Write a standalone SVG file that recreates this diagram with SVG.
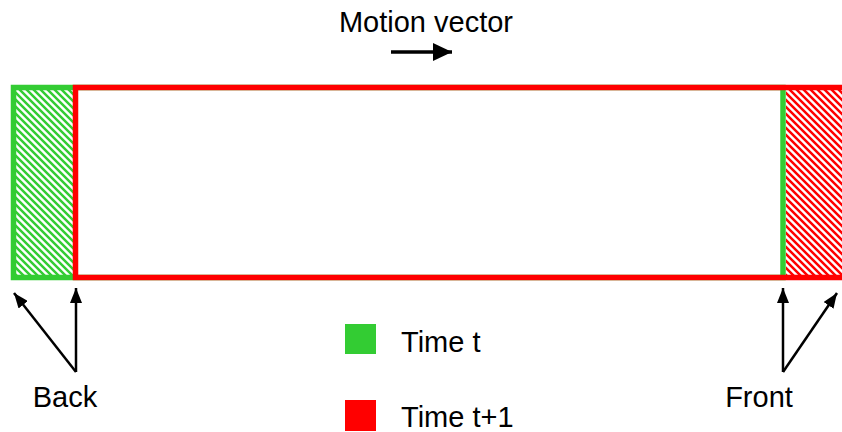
<svg xmlns="http://www.w3.org/2000/svg" width="842" height="432" viewBox="0 0 842 432">
  <defs>
    <pattern id="hatch-green" patternUnits="userSpaceOnUse" width="7" height="7">
      <path d="M-1,-1 L8,8 M-1,6 L1,8 M6,-1 L8,1" stroke="#33CC33" stroke-width="2.5"/>
    </pattern>
    <pattern id="hatch-red" patternUnits="userSpaceOnUse" width="7" height="7">
      <path d="M-1,-1 L8,8 M-1,6 L1,8 M6,-1 L8,1" stroke="#FF0000" stroke-width="2.5"/>
    </pattern>
    <marker id="arrow" viewBox="0 0 10 10" refX="10" refY="5" markerWidth="15" markerHeight="12" orient="auto" markerUnits="userSpaceOnUse" preserveAspectRatio="none">
      <path d="M0,0 L10,5 L0,10 z" fill="#000"/>
    </marker>
    <marker id="arrow-big" viewBox="0 0 10 10" refX="10" refY="5" markerWidth="19" markerHeight="18" orient="auto" markerUnits="userSpaceOnUse" preserveAspectRatio="none">
      <path d="M0,0 L10,5 L0,10 z" fill="#000"/>
    </marker>
  </defs>
  <style>
    .label { font-family: "Liberation Sans", Arial, sans-serif; font-size: 29px; fill: #000; }
    .conn { stroke: #000; stroke-width: 2.5; fill: none; marker-end: url(#arrow); }
  </style>
  <rect width="842" height="432" fill="#fff"/>

  <!-- object at time t -->
  <g id="time-t">
    <rect x="16" y="90" width="60" height="185" fill="url(#hatch-green)"/>
    <rect x="13.5" y="87.5" width="769.5" height="190" fill="none" stroke="#33CC33" stroke-width="5.5"/>
  </g>

  <!-- object at time t+1 -->
  <g id="time-t1">
    <rect x="786" y="90" width="60" height="185" fill="url(#hatch-red)"/>
    <rect x="75.5" y="87.5" width="780" height="190" fill="none" stroke="#FF0000" stroke-width="5.5"/>
  </g>

  <g id="motion-vector">
    <text class="label" x="426" y="32" text-anchor="middle">Motion vector</text>
  </g>

  <g id="back">
    <text class="label" x="65" y="407" text-anchor="middle">Back</text>
  </g>

  <g id="front">
    <text class="label" x="759" y="407" text-anchor="middle">Front</text>
  </g>

  <g id="legend">
    <rect x="345" y="324" width="31" height="30" fill="#33CC33"/>
    <text class="label" x="401" y="352">Time t</text>
    <rect x="345" y="400" width="31" height="31" fill="#FF0000"/>
    <text class="label" x="401" y="427">Time t+1</text>
  </g>

  <g id="connectors">
    <line x1="391" y1="52" x2="452" y2="52" stroke="#000" stroke-width="3.5" marker-end="url(#arrow-big)"/>
    <line class="conn" x1="76" y1="372" x2="76" y2="288"/>
    <line class="conn" x1="76" y1="372" x2="14" y2="293"/>
    <line class="conn" x1="783" y1="372" x2="783" y2="288"/>
    <line class="conn" x1="783" y1="372" x2="837" y2="293"/>
  </g>
</svg>
